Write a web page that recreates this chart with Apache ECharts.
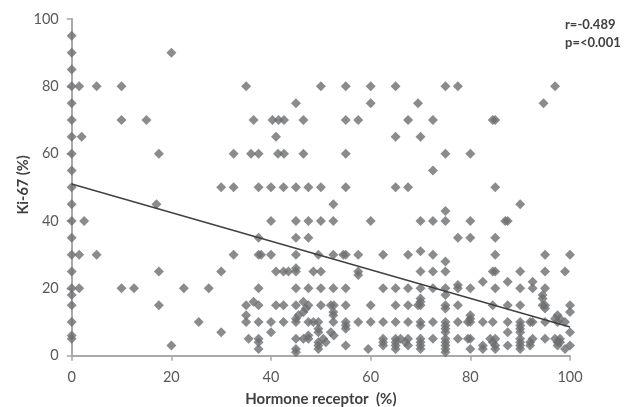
<!DOCTYPE html>
<html>
<head>
<meta charset="utf-8">
<style>html,body{margin:0;padding:0;background:#fff}#c{width:630px;height:407px}</style>
<script src="https://cdn.jsdelivr.net/npm/echarts@6/dist/echarts.min.js"></script>
</head>
<body>
<div id="c"></div>
<script>
const xTicks = [0, 20, 40, 60, 80, 100];
const yTicks = [0, 20, 40, 60, 80, 100];
const xAxisTitle = 'Hormone receptor  (%)';
const yAxisTitle = 'Ki-67 (%)';
const noteR = 'r=-0.489';
const noteP = 'p=<0.001';
const trendX = [0, 100];
const trendY = [51, 8.5];

// Hormone receptor values read at each Ki-67 level
const ki95 = [0];
const ki90 = [0, 20];
const ki85 = [0];
const ki80 = [0, 1.5, 5, 10, 35, 50, 55, 60, 65, 75, 77.5, 97];
const ki75 = [0, 45, 60, 69.5, 94.7];
const ki70 = [0, 10, 15, 36.5, 40.3, 41.5, 42.6, 46.5, 55, 57.5, 67.5, 72.5, 84.5, 85];
const ki65 = [0, 2, 41, 65, 70];
const ki60 = [0, 17.5, 32.5, 36, 37.5, 41.4, 42.6, 46.5, 55, 75, 80];
const ki55 = [0, 72.5];
const ki50 = [0, 30, 32.5, 37.5, 40, 42.5, 45, 47.5, 50, 55, 65, 67.5, 85];
const ki45 = [0, 17, 52.5, 90];
const ki43 = [75];
const ki40 = [0, 2.5, 40, 45, 47.5, 50, 52.5, 60, 70, 72.5, 75, 80, 87, 87.5];
const ki35 = [0, 37.5, 45, 47.5, 77.5, 80, 85];
const ki31 = [70];
const ki30 = [0, 1.5, 5, 32.5, 37.5, 38, 40, 45, 49.5, 52.5, 54.5, 55, 57.5, 62.5, 67.5, 72.5, 85, 95, 100];
const ki28 = [75];
const ki26 = [45];
const ki25 = [0, 17.5, 30, 41, 42.5, 43.5, 45, 48.5, 50, 57.5, 70, 72.5, 75, 84.5, 85, 90, 95, 99];
const ki24 = [57.5];
const ki22 = [82.5, 87.5, 92.5];
const ki21 = [77.5];
const ki20 = [0, 1.5, 10, 12.5, 22.5, 27.5, 37.5, 45, 47.5, 50, 52.5, 55, 62.5, 65, 67.5, 70, 72.5, 75, 77.5, 80, 85, 90, 92.5, 95];
const ki18 = [0, 75, 94.5];
const ki17 = [70, 94.5];
const ki16 = [36.5, 46.5, 70];
const ki15 = [0, 17.5, 35, 37.5, 41, 42.5, 45, 47.5, 50, 52, 52.6, 55, 60, 65, 67.5, 69.5, 70, 75, 77.5, 84.5, 87.5, 90, 94.5, 95, 100];
const ki14 = [47, 75, 95];
const ki13 = [46.5, 52.5, 100];
const ki12 = [35, 45.5, 52.5, 80, 97.5];
const ki11 = [45, 80, 97, 98];
const ki10 = [0, 25.5, 35, 37.5, 40, 42.5, 45, 47.5, 48.5, 49.5, 52.5, 55, 57.5, 60, 62.5, 65, 67.5, 70, 72.5, 75, 77.5, 79.5, 80, 82.5, 84.5, 87.5, 90, 92, 92.5, 95, 97.5, 99];
const ki9 = [55, 70, 75, 90];
const ki8 = [49.5, 55, 75, 90];
const ki7 = [30, 40, 49.5, 52, 75, 87.5, 90, 100];
const ki6 = [0, 47.5, 52.6];
const ki5 = [0, 35.5, 37.5, 45, 46.5, 47.5, 50.5, 62.5, 65, 66, 67.5, 70, 72.5, 75, 77.5, 79.5, 80, 85, 84, 90, 92.5, 95, 97, 98];
const ki4 = [37.5, 49.5, 51, 62.5, 65, 67, 70, 75, 84.5, 90, 92, 97.5, 98];
const ki3 = [20, 49.5, 55, 62.5, 65, 67.5, 70, 75, 82.5, 85, 87.5, 90, 92, 97.5, 100];
const ki2 = [37.5, 45, 49.5, 59.5, 65, 70, 75, 80, 82.5, 85, 90, 99];
const ki1 = [45, 75];

const levels = [
  [95, ki95], [90, ki90], [85, ki85], [80, ki80], [75, ki75], [70, ki70], [65, ki65], [60, ki60],
  [55, ki55], [50, ki50], [45, ki45], [43, ki43], [40, ki40], [35, ki35], [31, ki31], [30, ki30],
  [28, ki28], [26, ki26], [25, ki25], [24, ki24], [22, ki22], [21, ki21], [20, ki20], [18, ki18],
  [17, ki17], [16, ki16], [15, ki15], [14, ki14], [13, ki13], [12, ki12], [11, ki11], [10, ki10],
  [9, ki9], [8, ki8], [7, ki7], [6, ki6], [5, ki5], [4, ki4], [3, ki3], [2, ki2], [1, ki1]
];
const points = [];
levels.forEach(([y, xs]) => xs.forEach(x => points.push([x, y])));

const chart = echarts.init(document.getElementById('c'), null, {renderer: 'canvas'});
const font = 'Lato, "Open Sans", sans-serif';
const axisBase = {
  min: 0, max: 100, interval: 20,
  splitLine: {show: false},
  axisLine: {show: true, onZero: false, lineStyle: {color: '#a9a9ab', width: 2}},
  axisTick: {show: true, length: 5, lineStyle: {color: '#a9a9ab', width: 1.5}},
  axisLabel: {color: '#58595b', fontFamily: font, fontSize: 14.5}
};
chart.setOption({
  animation: false,
  backgroundColor: '#fff',
  grid: {left: 71.7, right: 60, top: 19, bottom: 51.3, outerBoundsMode: 'none'},
  xAxis: Object.assign({type: 'value'}, axisBase, {
    axisLabel: Object.assign({}, axisBase.axisLabel, {margin: 14}),
    name: xAxisTitle, nameLocation: 'middle', nameGap: 36,
    nameTextStyle: {color: '#404041', fontFamily: font, fontSize: 15, fontWeight: 'bold'}
  }),
  yAxis: Object.assign({type: 'value'}, axisBase, {
    axisLabel: Object.assign({}, axisBase.axisLabel, {margin: 13})
  }),
  series: [
    {
      type: 'scatter', symbol: 'diamond', symbolSize: 10,
      itemStyle: {color: '#6d6e71'},
      data: points, z: 2
    },
    {
      type: 'line', showSymbol: false, symbol: 'none',
      lineStyle: {color: '#3f4042', width: 1.5},
      data: trendX.map((x, i) => [x, trendY[i]]), z: 3
    }
  ],
  graphic: [
    {type: 'text', left: 565, top: 18, style: {text: noteR, fill: '#404041', font: 'bold 13px ' + font}},
    {type: 'text', left: 565, top: 36, style: {text: noteP, fill: '#404041', font: 'bold 13px ' + font}},
    {type: 'text', x: 23, y: 185, rotation: Math.PI / 2,
     style: {text: yAxisTitle, fill: '#404041', font: 'bold 14.5px ' + font, align: 'center', verticalAlign: 'middle'}}
  ]
});
</script>
</body>
</html>
